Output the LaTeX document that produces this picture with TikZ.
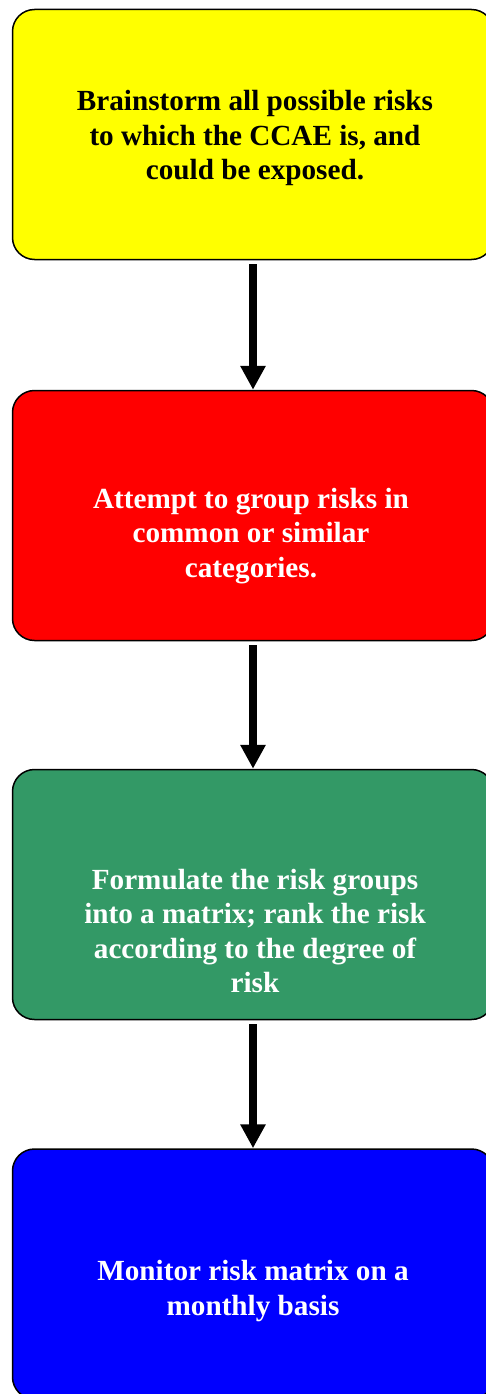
\documentclass[tikz,border=0pt]{standalone}
\usepackage{fontspec}
\setmainfont{Liberation Serif}
\usetikzlibrary{arrows.meta}
\definecolor{boxyellow}{RGB}{255,255,0}
\definecolor{boxred}{RGB}{255,0,0}
\definecolor{boxgreen}{RGB}{51,153,102}
\definecolor{boxblue}{RGB}{0,0,255}
\tikzset{
  stepbox/.style={draw=black, line width=1.5pt, rounded corners=22pt,
    minimum width=481pt, minimum height=250pt, inner sep=0pt},
  steptext/.style={align=center, font=\fontsize{29.2}{34.5}\selectfont\bfseries, inner sep=0pt},
  flowarrow/.style={line width=8pt, -{Triangle[width=24pt,length=24pt]}, shorten <=4pt}
}
\begin{document}
\begin{tikzpicture}[x=1pt,y=-1pt]
\useasboundingbox (0,0) rectangle (486,1394);
\node[stepbox, fill=boxyellow] (b1) at (253,134.5) {};
\node[stepbox, fill=boxred] (b2) at (253,515.5) {};
\node[stepbox, fill=boxgreen] (b3) at (253,894.5) {};
\node[stepbox, fill=boxblue] (b4) at (253,1274) {};
\node[steptext, text=black] (t1) at (255,138) {Brainstorm all possible risks\\to which the CCAE is, and\\could be exposed.};
\node[steptext, text=white] (t2) at (251,536) {Attempt to group risks in\\common or similar\\categories.};
\node[steptext, text=white] (t3) at (255,931) {Formulate the risk groups\\into a matrix; rank the risk\\according to the degree of\\risk};
\node[steptext, text=white] (t4) at (253,1291) {Monitor risk matrix on a\\monthly basis};
\draw[flowarrow] (b1.south) -- (b2.north);
\draw[flowarrow] (b2.south) -- (b3.north);
\draw[flowarrow] (b3.south) -- (b4.north);
\end{tikzpicture}
\end{document}
